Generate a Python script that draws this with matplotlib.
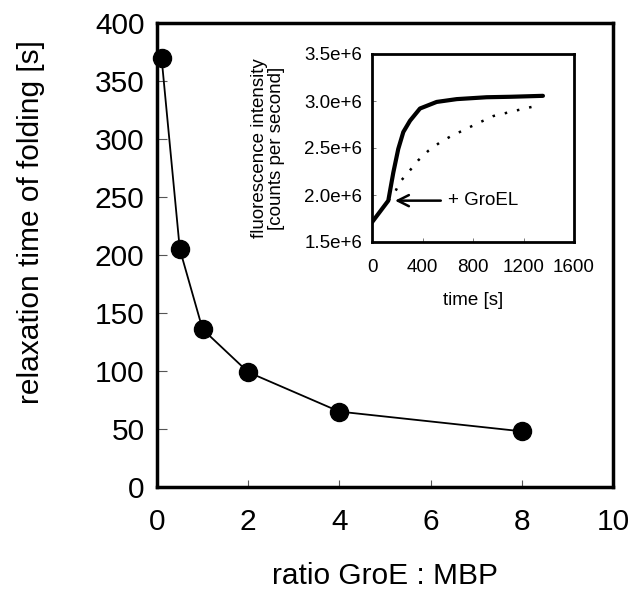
import matplotlib
matplotlib.use("Agg")
import matplotlib.pyplot as plt

plt.rcParams['font.family'] = ['Liberation Sans', 'DejaVu Sans']

# main data
ratio = [0.1, 0.5, 1, 2, 4, 8]
relax_time = [370, 205, 136, 99, 65, 48]

# inset data: with GroEL (solid) and without (dotted)
t_groel = [0, 129, 169, 208, 248, 301, 380, 512, 671, 908, 1100, 1354]
f_groel = [1.71e6, 1.94e6, 2.24e6, 2.49e6, 2.67e6, 2.79e6, 2.92e6, 2.99e6, 3.02e6, 3.04e6, 3.045e6, 3.055e6]
t_free = [129, 182, 222, 287, 367, 446, 539, 618, 710, 802, 881, 961, 1146, 1307]
f_free = [1.94e6, 2.03e6, 2.14e6, 2.24e6, 2.37e6, 2.47e6, 2.56e6, 2.62e6, 2.68e6, 2.74e6, 2.79e6, 2.84e6, 2.90e6, 2.95e6]

main_xticks = [0, 2, 4, 6, 8, 10]
main_yticks = [0, 50, 100, 150, 200, 250, 300, 350, 400]
inset_xticks = [0, 400, 800, 1200, 1600]
inset_yticks = [1.5e6, 2.0e6, 2.5e6, 3.0e6, 3.5e6]
inset_yticklabels = ['1.5e+6', '2.0e+6', '2.5e+6', '3.0e+6', '3.5e+6']

MAIN_FS = 21.5
INS_FS = 13.5

fig = plt.figure(figsize=(6.31, 5.91), dpi=100)
ax = fig.add_axes([157/631, 1-487/591, (613-157)/631, (487-23)/591])
ax.plot(ratio, relax_time, color='black', lw=1.3, marker='o', markersize=13,
        markerfacecolor='black', markeredgecolor='black', clip_on=False, zorder=3)
ax.set_xlim(0, 10)
ax.set_ylim(0, 400)
ax.set_xticks(main_xticks)
ax.set_yticks(main_yticks)
ax.tick_params(axis='both', direction='in', labelsize=MAIN_FS, width=0.8, color='#555555')
ax.tick_params(axis='y', length=7, pad=9)
ax.tick_params(axis='x', length=5, pad=15)
for s in ax.spines.values():
    s.set_linewidth(2.5)
ax.set_xlabel('ratio GroE : MBP', fontsize=MAIN_FS, labelpad=19)
ax.set_ylabel('relaxation time of folding [s]', fontsize=MAIN_FS)
ax.yaxis.set_label_coords(-0.245, 0.572)

# inset
ins = fig.add_axes([372/631, 1-242/591, 202/631, (242-54)/591])
ins.plot(t_groel, f_groel, color='black', lw=3.0, solid_capstyle='round')
ins.plot(t_free, f_free, color='black', lw=1.8, linestyle=(0, (1, 4)))
ins.set_xlim(0, 1600)
ins.set_ylim(1.5e6, 3.5e6)
ins.set_xticks(inset_xticks)
ins.set_yticks(inset_yticks)
ins.set_yticklabels(inset_yticklabels)
ins.tick_params(axis='both', direction='in', labelsize=INS_FS, length=3, width=0.6, color='#666666')
ins.tick_params(axis='x', pad=12)
ins.tick_params(axis='y', pad=7)
for s in ins.spines.values():
    s.set_linewidth(2.0)
ins.set_xlabel('time [s]', fontsize=INS_FS, labelpad=12)
ins.set_ylabel('fluorescence intensity\n[counts per second]', fontsize=INS_FS, labelpad=14, linespacing=1.0)
ins.annotate('+ GroEL', xy=(182, 1.94e6), xytext=(600, 1.94e6), fontsize=INS_FS, va='center',
             arrowprops=dict(arrowstyle='->', color='black', lw=1.8, shrinkA=3, shrinkB=0,
                             mutation_scale=20))

fig.savefig('out.png', dpi=100)
